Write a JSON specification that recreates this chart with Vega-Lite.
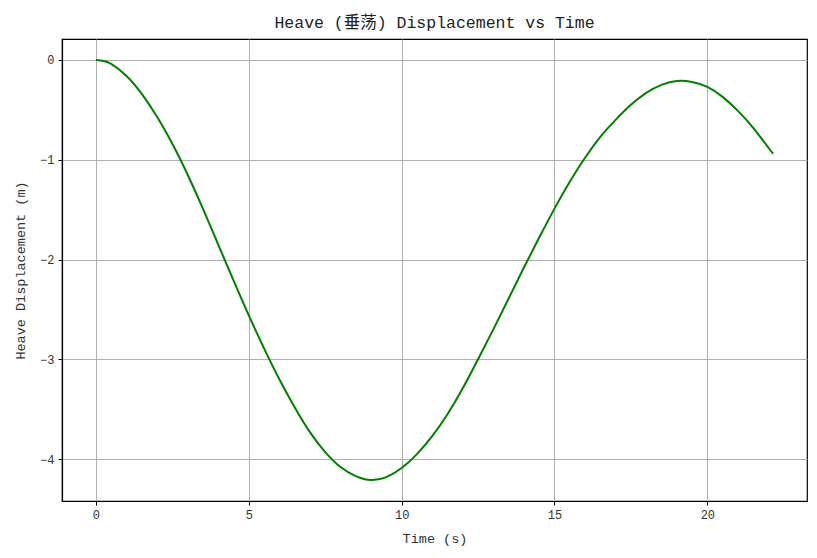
{
  "$schema": "https://vega.github.io/schema/vega-lite/v6.json",
  "autosize": "none",
  "padding": {"left": 62, "top": 39, "right": 10, "bottom": 57},
  "width": 745,
  "height": 462,
  "title": {
    "text": "Heave (垂荡) Displacement vs Time",
    "font": "Liberation Mono, Noto Sans CJK SC",
    "fontSize": 16.5,
    "fontWeight": "normal",
    "color": "#222222",
    "offset": 8
  },
  "config": {
    "view": {"stroke": "#000000", "strokeWidth": 1.2},
    "axis": {
      "labelFont": "Liberation Mono",
      "titleFont": "Liberation Mono",
      "labelFontSize": 12,
      "titleFontSize": 13.5,
      "titleFontWeight": "normal",
      "labelColor": "#333333",
      "titleColor": "#333333",
      "domainColor": "#000000",
      "domainWidth": 1.2,
      "tickColor": "#000000",
      "tickSize": 4,
      "gridColor": "#b0b0b0",
      "gridWidth": 1,
      "labelPadding": 4
    }
  },
  "data": {
    "values": [
      {"t": 0, "y": 0},
      {"t": 0.25, "y": -0.01},
      {"t": 0.5, "y": -0.04},
      {"t": 1.0, "y": -0.16},
      {"t": 1.5, "y": -0.34},
      {"t": 2.0, "y": -0.57},
      {"t": 2.5, "y": -0.84},
      {"t": 3.0, "y": -1.15},
      {"t": 3.5, "y": -1.49},
      {"t": 4.0, "y": -1.85},
      {"t": 4.5, "y": -2.21},
      {"t": 5.0, "y": -2.56},
      {"t": 5.5, "y": -2.89},
      {"t": 6.0, "y": -3.2},
      {"t": 6.5, "y": -3.48},
      {"t": 7.0, "y": -3.73},
      {"t": 7.5, "y": -3.93},
      {"t": 8.0, "y": -4.08},
      {"t": 8.5, "y": -4.17},
      {"t": 9.0, "y": -4.21},
      {"t": 9.5, "y": -4.18},
      {"t": 10.0, "y": -4.09},
      {"t": 10.5, "y": -3.95},
      {"t": 11.0, "y": -3.77},
      {"t": 11.5, "y": -3.55},
      {"t": 12.0, "y": -3.29},
      {"t": 12.5, "y": -3.0},
      {"t": 13.0, "y": -2.7},
      {"t": 13.5, "y": -2.39},
      {"t": 14.0, "y": -2.08},
      {"t": 14.5, "y": -1.78},
      {"t": 15.0, "y": -1.49},
      {"t": 15.5, "y": -1.22},
      {"t": 16.0, "y": -0.98},
      {"t": 16.5, "y": -0.77},
      {"t": 17.0, "y": -0.6},
      {"t": 17.5, "y": -0.45},
      {"t": 18.0, "y": -0.33},
      {"t": 18.5, "y": -0.25},
      {"t": 19.0, "y": -0.21},
      {"t": 19.5, "y": -0.22},
      {"t": 20.0, "y": -0.27},
      {"t": 20.5, "y": -0.37},
      {"t": 21.0, "y": -0.51},
      {"t": 21.5, "y": -0.68},
      {"t": 22.0, "y": -0.88},
      {"t": 22.15, "y": -0.94}
    ]
  },
  "mark": {"type": "line", "color": "#008000", "strokeWidth": 2, "interpolate": "natural"},
  "encoding": {
    "x": {
      "field": "t",
      "type": "quantitative",
      "scale": {"domain": [-1.11, 23.26], "nice": false, "zero": false},
      "axis": {"title": "Time (s)", "values": [0, 5, 10, 15, 20], "titlePadding": 11}
    },
    "y": {
      "field": "y",
      "type": "quantitative",
      "scale": {"domain": [-4.42, 0.21], "nice": false, "zero": false},
      "axis": {"title": "Heave Displacement (m)", "values": [-4, -3, -2, -1, 0], "titlePadding": 12}
    }
  }
}
